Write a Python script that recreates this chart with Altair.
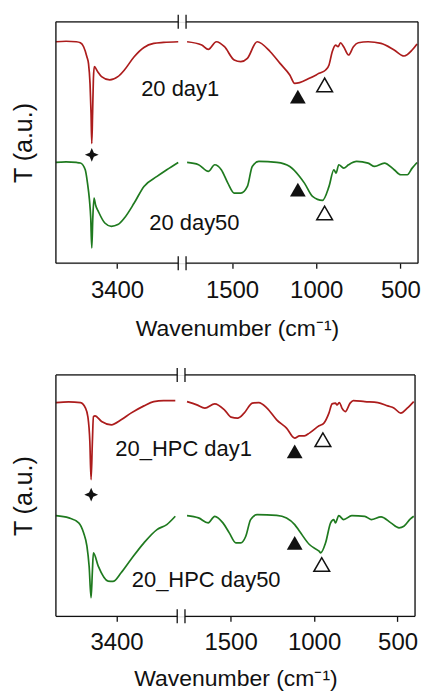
import altair as alt
import pandas as pd

# ---------------- data (wavenumber in cm^-1, transmittance in a.u.) ----------------
SERIES = ["day1", "day50"]
COLORS = ["#ac1c1c", "#1f7a1f"]

# Top panel ("20")
TOP_RED_L_W = [4000, 3900, 3800, 3760, 3728, 3696, 3680, 3665, 3655, 3648, 3640, 3632, 3623, 3590, 3552, 3472, 3392, 3328, 3232, 3136, 3040, 2944, 2800]
TOP_RED_L_T = [222, 222.5, 222, 221, 217, 207, 200, 180, 150, 120, 150, 185, 197, 192, 187, 183.7, 187, 193.7, 207, 216.3, 220.3, 221.3, 222]
TOP_RED_R_W = [1767, 1680, 1641, 1593, 1545, 1487, 1448, 1409, 1351, 1273, 1215, 1157, 1128, 1099, 1041, 983, 944, 924, 905, 885, 870, 856, 837, 808, 779, 750, 692, 615, 537, 478, 430, 401]
TOP_RED_R_T = [222, 218.7, 214.3, 222, 217, 203.7, 202, 205.3, 222, 212, 200.3, 188.7, 180.3, 181, 185.3, 190.3, 193.7, 198.7, 212, 218.7, 217, 221, 217, 208.7, 217, 221, 222, 220.3, 213.7, 207.7, 213.7, 219.7]
TOP_GRN_L_W = [4000, 3900, 3800, 3760, 3712, 3690, 3671, 3658, 3648, 3638, 3626, 3610, 3584, 3520, 3456, 3392, 3328, 3232, 3136, 3008, 2912, 2800]
TOP_GRN_L_T = [101, 101.5, 101, 100.5, 93.7, 80.3, 63.7, 45, 15.3, 45, 65.3, 58, 52, 40.3, 37, 38.7, 45.3, 60.3, 77, 87, 93.7, 101]
TOP_GRN_R_W = [1767, 1699, 1641, 1603, 1564, 1525, 1487, 1448, 1409, 1380, 1341, 1234, 1157, 1099, 1070, 1022, 963, 924, 895, 882, 866, 837, 808, 760, 692, 653, 595, 537, 498, 459, 430, 401]
TOP_GRN_R_T = [101, 98.7, 92, 98.7, 93.7, 80.3, 70.3, 70.3, 77, 97, 102, 101, 97, 87, 80.3, 67, 63, 77, 93.7, 90.3, 98.7, 95.3, 98.7, 102, 100.3, 97, 100.3, 93.7, 88.7, 88.7, 95.3, 101]

# Bottom panel ("20_HPC")
BOT_RED_L_W = [4000, 3874, 3756, 3707, 3684, 3664, 3652, 3639, 3629, 3613, 3548, 3451, 3355, 3258, 3129, 3032, 2935, 2819]
BOT_RED_L_T = [214.3, 215, 214.3, 208.7, 200.3, 175, 137, 175, 200.3, 201, 195.3, 192, 197, 203.7, 211, 215.3, 216.3, 216.3]
BOT_RED_R_W = [1761, 1702, 1654, 1595, 1537, 1497, 1458, 1419, 1370, 1331, 1282, 1224, 1165, 1116, 1087, 1058, 1028, 970, 941, 911, 892, 872, 863, 848, 833, 813, 784, 765, 696, 618, 559, 520, 481, 442, 403]
BOT_RED_R_T = [215.3, 212, 208.7, 213, 207, 199.7, 198.7, 203.7, 213.7, 214.3, 208.7, 197, 188.7, 178.7, 181, 181, 183.7, 191, 193.7, 203.7, 213, 213.7, 212, 214.3, 208.7, 205.3, 213.7, 216.3, 215.3, 214.3, 211, 208.7, 203.7, 208.7, 215.3]
BOT_GRN_L_W = [4000, 3871, 3774, 3726, 3693, 3671, 3652, 3639, 3629, 3581, 3484, 3436, 3355, 3258, 3129, 3000, 2903, 2819]
BOT_GRN_L_T = [101, 98.7, 93.7, 83.7, 70.3, 50, 18.7, 45, 63.7, 50.3, 35.3, 35, 43.7, 57, 73.7, 87, 92, 100.3]
BOT_GRN_R_W = [1761, 1692, 1634, 1595, 1546, 1508, 1468, 1439, 1409, 1380, 1341, 1224, 1165, 1116, 1087, 1028, 970, 960, 931, 901, 882, 872, 852, 823, 774, 696, 658, 599, 540, 491, 462, 423, 403]
BOT_GRN_R_T = [101, 98.7, 93.7, 100.3, 93.7, 83.7, 73.7, 73.7, 80.3, 97, 102, 101.3, 98.7, 92, 85.3, 72, 65.3, 63.7, 73.7, 93.7, 97, 93.7, 101, 97, 101, 100.3, 97, 99.7, 93.7, 88.7, 90.3, 97.7, 100.3]

# Peak markers: (wavenumber, T, kind)
TOP_MARK_W = [3648, 1109, 1109, 950, 950]
TOP_MARK_T = [108.7, 167, 73.7, 178.7, 50.3]
TOP_MARK_K = ["star", "filled", "filled", "open", "open"]
BOT_MARK_W = [3651, 1116, 1116, 947, 954]
BOT_MARK_T = [122, 165.3, 73.7, 177, 52]
BOT_MARK_K = ["star", "filled", "filled", "open", "open"]

# Sample labels (positions in broken-axis units)
TOP_TEXT = ["20 day1", "20 day50"]
TOP_TEXT_X = [127, 141.5]
TOP_TEXT_T = [175, 40]
BOT_TEXT = ["20_HPC day1", "20_HPC day50"]
BOT_TEXT_X = [131.6, 154.8]
BOT_TEXT_T = [168, 36.5]

TICK_WN = [3400, 1500, 1000, 500]

# ---------------- broken axis mapping ----------------
X_DOMAIN = [0, 370]
Y_DOMAIN = [0, 242]
SEGMENTS = [[0, 125], [133, 370]]
BREAKS = [125, 133]
PLOT_H = 242
POS_EXPR = "datum.w >= 2500 ? (4000 - datum.w) * 125 / 1200 : 180 + (1500 - datum.w) * 0.172"
LABEL_EXPR = ("datum.value < 129 ? '' + round(4000 - datum.value * 9.6) "
              ": '' + round(1500 - (datum.value - 180) / 0.172)")


def to_pos(w):
    return (4000 - w) * 125 / 1200 if w >= 2500 else 180 + (1500 - w) * 0.172


TICK_POS = [to_pos(w) for w in TICK_WN]
FONT = "Liberation Sans, Arial, sans-serif"
INK = "#111111"
STAR = "M0,-1 L0.3,-0.3 L1,0 L0.3,0.3 L0,1 L-0.3,0.3 L-1,0 L-0.3,-0.3 Z"


def spectra_df(spec):
    rows = []
    for name, seg, ws, ts in spec:
        for w, t in zip(ws, ts):
            rows.append({"w": w, "T": t, "series": name, "seg": f"{name}-{seg}"})
    return pd.DataFrame(rows)


def panel(spec, mw, mt, mk, texts, tx, tt, width, label_pad, title_pad):
    xs = alt.Scale(domain=X_DOMAIN, nice=False, zero=False)
    ys = alt.Scale(domain=Y_DOMAIN, nice=False, zero=False)
    xaxis = alt.Axis(values=TICK_POS, labelExpr=LABEL_EXPR, title="Wavenumber (cm⁻¹)",
                     domain=False, grid=False, ticks=True, tickSize=5, tickWidth=1.3,
                     tickColor=INK, labelFontSize=24, labelPadding=label_pad, labelColor=INK,
                     labelFont=FONT, titleFont=FONT, titleFontSize=23, titlePadding=title_pad,
                     titleFontWeight="normal", titleColor=INK, labelFlush=False)
    yaxis = alt.Axis(title="T (a.u.)", labels=False, ticks=False, domain=False, grid=False,
                     titleFont=FONT, titleFontSize=25, titlePadding=19,
                     titleFontWeight="normal", titleColor=INK)

    lines = alt.Chart(spectra_df(spec)).transform_calculate(pos=POS_EXPR).mark_line(
        strokeWidth=1.7, interpolate="monotone"
    ).encode(
        x=alt.X("pos:Q", scale=xs, axis=xaxis),
        y=alt.Y("T:Q", scale=ys, axis=yaxis),
        color=alt.Color("series:N", scale=alt.Scale(domain=SERIES, range=COLORS), legend=None),
        detail="seg:N",
        order="pos:Q",
    )

    hf = pd.DataFrame([{"x0": a, "x1": b, "y": y} for y in Y_DOMAIN for a, b in SEGMENTS])
    hframe = alt.Chart(hf).mark_rule(color=INK, strokeWidth=1.3).encode(
        x=alt.X("x0:Q", scale=xs, axis=xaxis), x2="x1:Q",
        y=alt.Y("y:Q", scale=ys, axis=yaxis))
    vf = pd.DataFrame([{"x": X_DOMAIN[0], "y0": Y_DOMAIN[0], "y1": Y_DOMAIN[1]},
                       {"x": X_DOMAIN[1], "y0": Y_DOMAIN[0], "y1": Y_DOMAIN[1]}])
    vframe = alt.Chart(vf).mark_rule(color=INK, strokeWidth=1.3).encode(
        x=alt.X("x:Q", scale=xs, axis=xaxis),
        y=alt.Y("y0:Q", scale=ys, axis=yaxis), y2="y1:Q")
    bdf = pd.DataFrame({"b": BREAKS})
    brk_top = alt.Chart(bdf).mark_rule(color=INK, strokeWidth=1.3).encode(
        x=alt.X("b:Q", scale=xs, axis=xaxis), y=alt.value(-7), y2=alt.value(7))
    brk_bot = alt.Chart(bdf).mark_rule(color=INK, strokeWidth=1.3).encode(
        x=alt.X("b:Q", scale=xs, axis=xaxis), y=alt.value(PLOT_H - 7), y2=alt.value(PLOT_H + 7))

    mdf = pd.DataFrame({"w": mw, "T": mt, "kind": mk})
    mbase = alt.Chart(mdf).transform_calculate(pos=POS_EXPR)
    enc = dict(x=alt.X("pos:Q", scale=xs, axis=xaxis), y=alt.Y("T:Q", scale=ys, axis=yaxis))
    star = mbase.transform_filter("datum.kind == 'star'").mark_point(
        shape=STAR, filled=True, color=INK, size=190, opacity=1).encode(**enc)
    ftri = mbase.transform_filter("datum.kind == 'filled'").mark_point(
        shape="triangle-up", filled=True, color=INK, size=250, opacity=1).encode(**enc)
    otri = mbase.transform_filter("datum.kind == 'open'").mark_point(
        shape="triangle-up", filled=False, color=INK, strokeWidth=1.5, size=250, opacity=1).encode(**enc)

    tdf = pd.DataFrame({"label": texts, "px": tx, "T": tt})
    text = alt.Chart(tdf).mark_text(font=FONT, fontSize=22, color=INK, align="center",
                                    baseline="middle").encode(
        x=alt.X("px:Q", scale=xs, axis=xaxis), y=alt.Y("T:Q", scale=ys, axis=yaxis), text="label:N")

    return alt.layer(lines, hframe, vframe, brk_top, brk_bot, star, ftri, otri, text).properties(
        width=width, height=PLOT_H)


top_spec = [("day1", "L", TOP_RED_L_W, TOP_RED_L_T), ("day1", "R", TOP_RED_R_W, TOP_RED_R_T),
            ("day50", "L", TOP_GRN_L_W, TOP_GRN_L_T), ("day50", "R", TOP_GRN_R_W, TOP_GRN_R_T)]
bot_spec = [("day1", "L", BOT_RED_L_W, BOT_RED_L_T), ("day1", "R", BOT_RED_R_W, BOT_RED_R_T),
            ("day50", "L", BOT_GRN_L_W, BOT_GRN_L_T), ("day50", "R", BOT_GRN_R_W, BOT_GRN_R_T)]

p1 = panel(top_spec, TOP_MARK_W, TOP_MARK_T, TOP_MARK_K, TOP_TEXT, TOP_TEXT_X, TOP_TEXT_T,
           363, 10, 15)
p2 = panel(bot_spec, BOT_MARK_W, BOT_MARK_T, BOT_MARK_K, BOT_TEXT, BOT_TEXT_X, BOT_TEXT_T,
           360, 9, 13)

chart = alt.vconcat(p1, p2, spacing=25).properties(
    padding={"left": 3, "top": 4, "right": 0, "bottom": 0}
).configure_view(stroke=None).configure(background="white")

chart.save("out.html", embed_options={"renderer": "svg", "actions": False})
